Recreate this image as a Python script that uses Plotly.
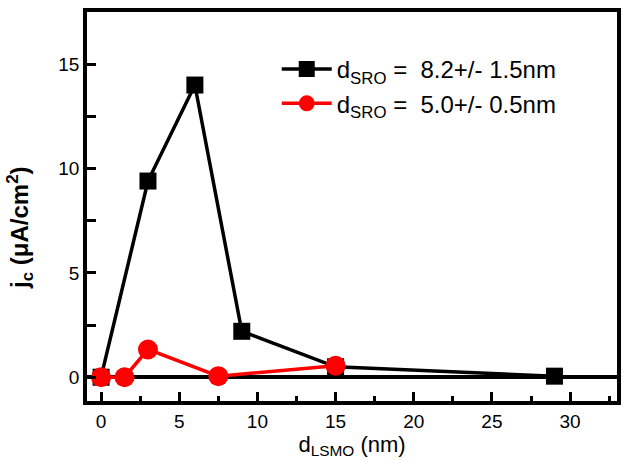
import plotly.graph_objects as go

x_black = [0, 3, 6, 9, 15, 29]
y_black = [0, 9.4, 14.0, 2.2, 0.5, 0.05]
x_red = [0, 1.5, 3, 7.5, 15]
y_red = [0, 0, 1.33, 0.05, 0.55]
name_black = "d<sub>SRO</sub> =  8.2+/- 1.5nm"
name_red = "d<sub>SRO</sub> =  5.0+/- 0.5nm"
y_title = "<b>j<sub>c</sub> (μA/cm<sup>2</sup>)</b>"

fig = go.Figure()
fig.add_trace(go.Scatter(x=x_black, y=y_black, mode="lines+markers", name=name_black,
                         line=dict(color="black", width=3.5),
                         marker=dict(symbol="square", size=17, color="black")))
fig.add_trace(go.Scatter(x=x_red, y=y_red, mode="lines+markers", name=name_red,
                         line=dict(color="#ff0000", width=3.5),
                         marker=dict(symbol="circle", size=20, color="#ff0000")))

font = "Liberation Sans, Arial, sans-serif"
fig.update_layout(
    width=635, height=462,
    margin=dict(l=87, r=18, t=8, b=61),
    paper_bgcolor="white", plot_bgcolor="white",
    font=dict(family=font, size=19, color="black"),
    showlegend=True,
    legend=dict(x=0.358, y=0.91, xanchor="left", yanchor="top",
                bgcolor="rgba(0,0,0,0)", font=dict(size=24), itemwidth=50,
                tracegroupgap=0),
    xaxis=dict(range=[-0.9, 33], showgrid=False, zeroline=False,
               showline=True, linecolor="black", linewidth=3.5, mirror=True,
               ticks="inside", ticklen=9, tickwidth=3, tickcolor="black",
               tick0=0, dtick=5, tickfont=dict(size=19),
               minor=dict(ticks="inside", ticklen=5, tickwidth=3, tickcolor="black", dtick=2.5, tick0=0),
               title=dict(text="d<sub>LSMO</sub> (nm)", font=dict(size=22), standoff=4)),
    yaxis=dict(range=[-1.14, 17.5], showgrid=False, zeroline=True,
               zerolinecolor="black", zerolinewidth=4,
               showline=True, linecolor="black", linewidth=3.5, mirror=True,
               ticks="inside", ticklen=9, tickwidth=3, tickcolor="black",
               tick0=0, dtick=5, tickfont=dict(size=19),
               minor=dict(ticks="inside", ticklen=9, tickwidth=3, tickcolor="black", dtick=2.5, tick0=0)),
    annotations=[dict(text=y_title, textangle=-90, xref="paper", yref="paper",
                      x=0, y=0.445, xanchor="center", yanchor="middle",
                      xshift=-67, showarrow=False, font=dict(size=24))],
)
fig.write_html("out.html")
